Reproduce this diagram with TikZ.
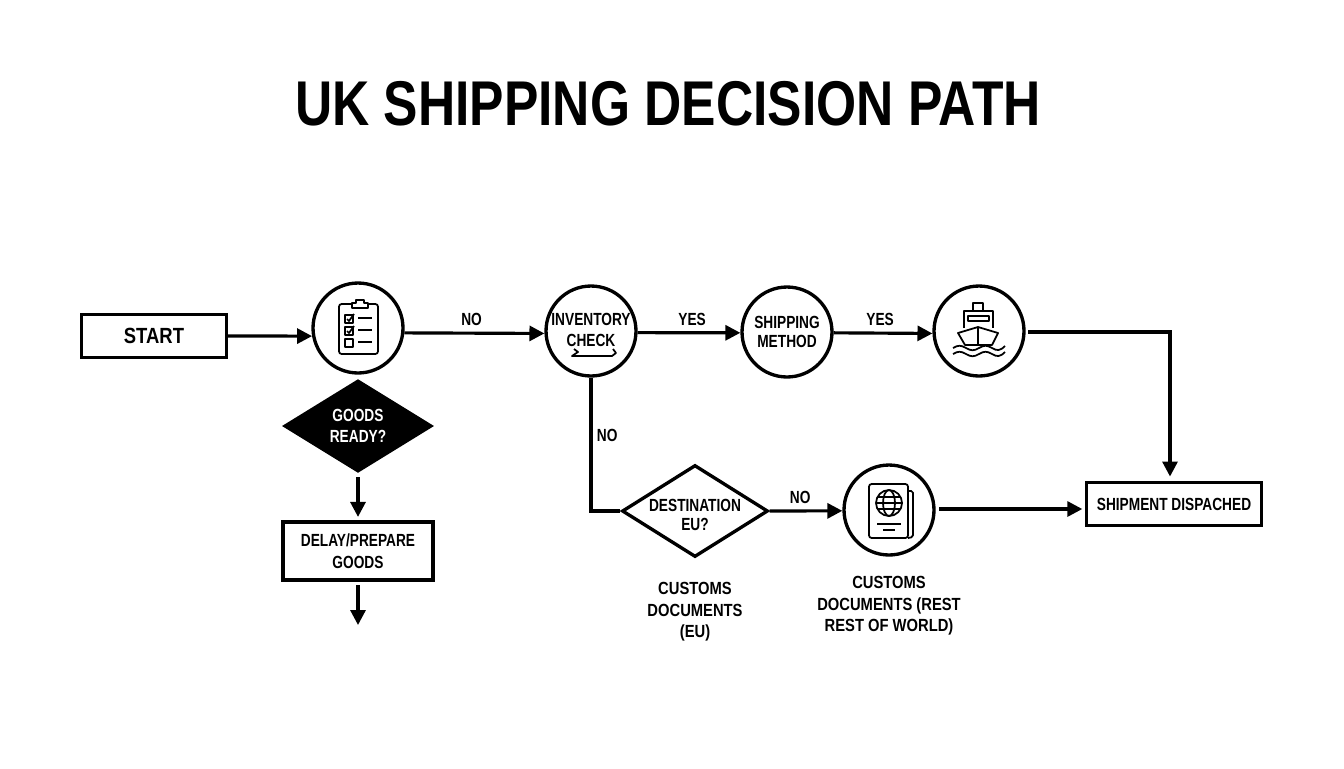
\documentclass[tikz,border=0pt]{standalone}
\usepackage{fontspec}
\setmainfont[FakeStretch=0.84]{Liberation Sans}
\newfontfamily\narrowfont[FakeStretch=0.78]{Liberation Sans}
\newfontfamily\titlefont[FakeStretch=0.815]{Liberation Sans}
\usetikzlibrary{arrows.meta, positioning, shapes.geometric}

\newcommand{\labelfont}{\narrowfont\bfseries\fontsize{10}{11.2}\selectfont}
\newcommand{\widelabelfont}{\narrowfont\bfseries\fontsize{10}{12.2}\selectfont}
\newcommand{\captionfont}{\bfseries\fontsize{10}{12.2}\selectfont}

\tikzset{
    boxnode/.style={rectangle, draw=black, line width=1.8pt},
    circnode/.style={circle, draw=black, line width=1.9pt, minimum size=1.8cm, font=\labelfont},
    decisionnode/.style={diamond, draw=black, line width=1.9pt, aspect=1.6},
    flowarrow/.style={-{Triangle[length=8.5pt, width=8.5pt]}, line width=1.8pt},
    edgelabel/.style={font=\labelfont},
    iconline/.style={line width=1pt, line join=round}
}

\begin{document}
\begin{tikzpicture}[
    x=0.02cm, y=-0.02cm,
    every node/.style={inner sep=0pt, align=center}
]
\useasboundingbox (0,0) rectangle (1344,768);

% Title
\node[font=\titlefont\bfseries\fontsize{36}{40}\selectfont] (title) at (668,104) {UK SHIPPING DECISION PATH};

% Top row
\node[boxnode, minimum width=2.9cm, minimum height=0.86cm, font=\bfseries\fontsize{12.5}{14}\selectfont] (start) at (154,336) {START};
\node[circnode] (checklist) at (358,328) {};
\node[circnode] (inventory) at (591,331) {};
\node[font=\labelfont] (inventorytext) at (591,330) {INVENTORY\\[0.6pt]CHECK};
\node[circnode] (shipping) at (787,332) {SHIPPING\\METHOD};
\node[circnode] (ship) at (979,331) {};

% Left column
\node[decisionnode, fill=black, text=white, minimum width=2.94cm, minimum height=1.82cm, font=\widelabelfont] (goods) at (358,426) {GOODS\\READY?};
\node[boxnode, minimum width=3cm, minimum height=1.16cm, font=\widelabelfont] (delay) at (358,551) {DELAY/PREPARE\\GOODS};
\coordinate (delayend) at (358,625);

% Lower row
\node[decisionnode, minimum width=2.92cm, minimum height=1.84cm] (destination) at (695,511) {};
\node[font=\labelfont] (destinationtext) at (695,515) {DESTINATION\\EU?};
\node[circnode] (passport) at (889,510) {};
\node[boxnode, minimum width=3.5cm, minimum height=0.86cm, font=\labelfont] (dispatched) at (1174,504) {SHIPMENT DISPACHED};

% Captions
\node[font=\captionfont] (captioneu) at (695,612) {CUSTOMS\\DOCUMENTS\\(EU)};
\node[font=\captionfont] (captionrow) at (889,606) {CUSTOMS\\DOCUMENTS (REST\\REST OF WORLD)};

% Helper points
\coordinate (shipout) at (1028,332);
\coordinate (shipcorner) at (1170,332);
\coordinate (passportout) at (939,509);
\coordinate (goodsout) at (358,477);

% Arrows
\draw[flowarrow] (start.east) -- (checklist.190);
\draw[flowarrow] (checklist.-6) -- node[pos=0.48, above=3.4pt, edgelabel] (labela) {NO} (inventory.183);
\draw[flowarrow] (inventory.-2) -- node[pos=0.53, above=3.4pt, edgelabel] (labelb) {YES} (shipping.181);
\draw[flowarrow] (shipping.-1) -- node[pos=0.47, above=3.4pt, edgelabel] (labelc) {YES} (ship.183);
\draw[flowarrow, shorten >=2pt] (goodsout) -- (delay.north);
\draw[flowarrow, shorten <=2pt] (delay.south) -- (delayend);
\draw[line width=1.8pt] (inventory.south) -- node[pos=0.43, right=2.5pt, edgelabel] (labeld) {NO} (inventory.south |- destination.west) -- (destination.west);
\draw[flowarrow] (destination.east) -- node[pos=0.42, above=3.4pt, edgelabel] (labele) {NO} (passport.181);
\draw[flowarrow, shorten >=2.5pt] (shipout) -- (shipcorner) -- (shipcorner |- dispatched.north);
\draw[flowarrow, shorten >=1.5pt] (passportout) -- (passportout -| dispatched.west);

% Clipboard icon
\draw[iconline, rounded corners=1.5pt] (339,304) rectangle (378,354);
\draw[iconline, fill=white] (352,308) -- (352,303) -- (356,303) -- (356,300) -- (364,300) -- (364,303) -- (368,303) -- (368,308) -- cycle;
\foreach \y in {315,327,339}
    \draw[iconline] (345,\y) rectangle ++(8,8);
\foreach \y in {318,330,342}
    \draw[iconline] (358,\y) -- ++(14,0);
\foreach \y in {315,327}
    \draw[iconline] (347,\y+4) -- (349,\y+6) -- (354,\y-1);

% Inventory squiggle
\draw[iconline] (574,349) -- (578,352) -- (572,356) -- (612,356) -- (616,353) -- (613,349);

% Ship icon
\draw[iconline] (973,311) -- (973,303) -- (983,303) -- (983,311);
\draw[iconline] (964,328) -- (964,311) -- (993,311) -- (993,328);
\draw[iconline] (968,316) rectangle (989,321);
\draw[iconline, fill=white] (958,333) -- (978,327) -- (998,333) -- (992,345) -- (965,345) -- cycle;
\draw[iconline] (978,327) -- (978,345);
\foreach \y in {348,354}
    \draw[iconline] (953,\y) .. controls (958,\y-3) and (961,\y-3) .. (966,\y)
        .. controls (971,\y+3) and (974,\y+3) .. (979,\y)
        .. controls (984,\y-3) and (987,\y-3) .. (992,\y)
        .. controls (997,\y+3) and (1000,\y+3) .. (1005,\y-2);

% Passport icon
\draw[iconline, rounded corners=1pt] (908,491) -- (913,491) -- (913,537) -- (908,538);
\draw[iconline, rounded corners=1.5pt] (869,484) rectangle (908,538);
\draw[iconline] (889,503) circle (13);
\draw[iconline] (889,503) ellipse (6 and 13);
\draw[iconline] (876,503) -- (902,503);
\draw[iconline] (878,497) -- (900,497);
\draw[iconline] (878,509) -- (900,509);
\draw[iconline] (877,524) -- (901,524);
\draw[iconline] (883,530) -- (895,530);

\end{tikzpicture}
\end{document}
